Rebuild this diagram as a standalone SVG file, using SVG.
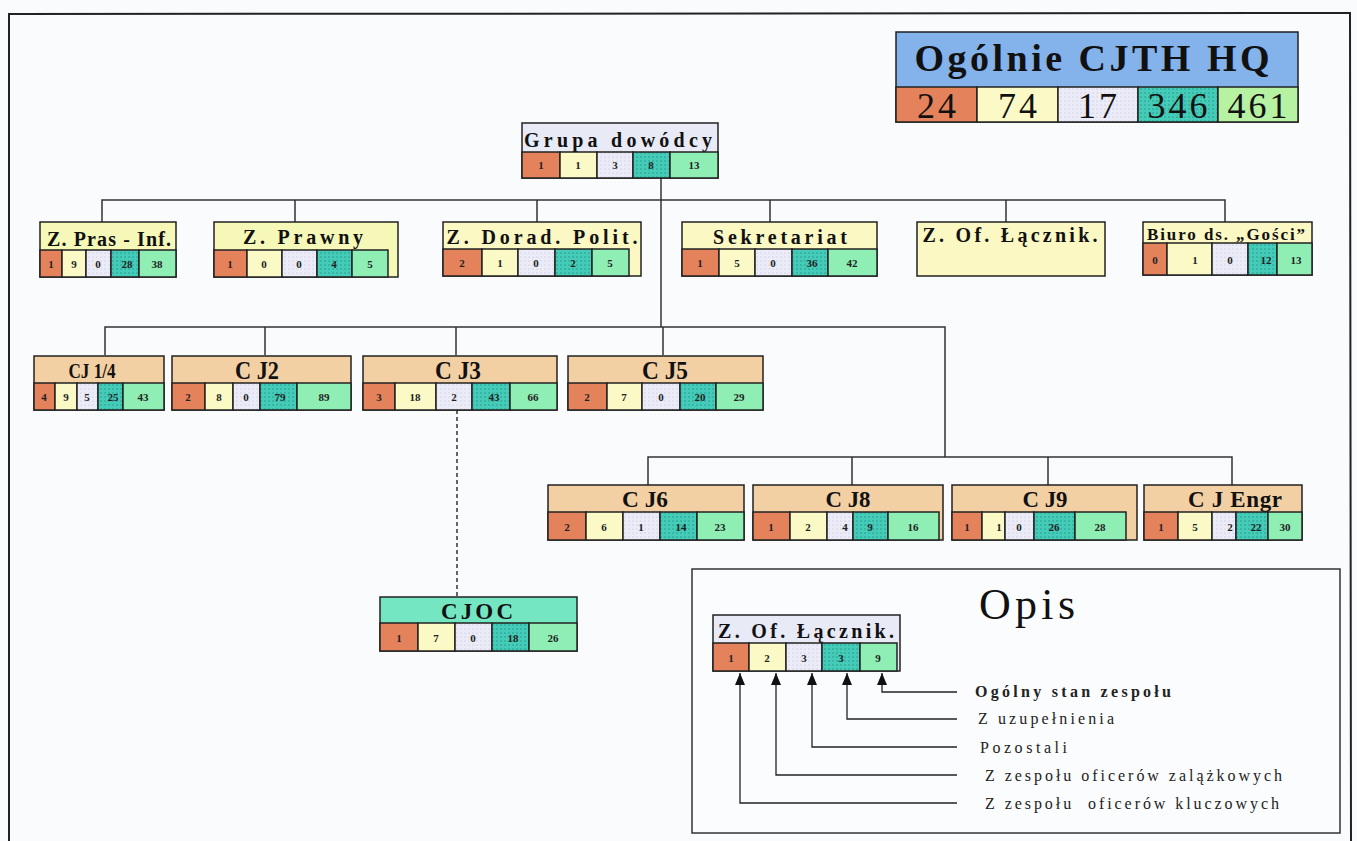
<svg xmlns="http://www.w3.org/2000/svg" width="1357" height="841" viewBox="0 0 1357 841">
<defs>
<pattern id="dotT" width="4" height="4" patternUnits="userSpaceOnUse"><rect width="4" height="4" fill="#44ccb8"/><circle cx="1" cy="1" r="0.7" fill="#1f8f84"/></pattern>
<pattern id="dotL" width="4" height="4" patternUnits="userSpaceOnUse"><rect width="4" height="4" fill="#ececf8"/><circle cx="1" cy="1" r="0.6" fill="#b8b8d4"/></pattern>
<marker id="ah" viewBox="0 0 12 10" refX="12" refY="5" markerWidth="12" markerHeight="10" markerUnits="userSpaceOnUse" orient="auto"><path d="M0,0 L12,5 L0,10 Z" fill="#111"/></marker>
</defs>
<style>
.bx{stroke:#222;stroke-width:1.5}
.o{fill:#e4825c}.y{fill:#fbf9c6}.l{fill:url(#dotL)}.tq{fill:url(#dotT)}.g{fill:#8eeeb4}
.hy{fill:#f6f8b8}.hc{fill:#fcf8c4}.ht{fill:#f3cfa4}.hl{fill:#e8eaf6}.hm{fill:#74e6c2}.hb{fill:#84b2ea}
.t{font-family:"Liberation Serif",serif;font-weight:bold;text-anchor:middle;fill:#111}
.n{font-family:"Liberation Serif",serif;font-weight:bold;font-size:11px;text-anchor:middle;fill:#222}
.lg{font-family:"Liberation Serif",serif;font-size:16px;fill:#222;letter-spacing:1px}
.cn{fill:none;stroke:#333;stroke-width:1.5}
</style>
<rect x="0" y="0" width="1357" height="841" fill="#f9fbfd"/>
<path d="M9,841 L9,14 L1350,13 L1351,841" fill="none" stroke="#222" stroke-width="2"/>

<g id="connectors">
<path class="cn" d="M661,178 V327"/>
<path class="cn" d="M102,222 V200 H1225 V222 M295,200 V222 M537,200 V222 M770,200 V222 M1006,200 V222"/>
<path class="cn" d="M105,355 V327 H945 V457 M265,327 V355 M456,327 V355 M663,327 V355"/>
<path class="cn" d="M648,485 V457 H1232 V485 M852,457 V485 M1048,457 V485"/>
<path class="cn" d="M457,410 V597" stroke-dasharray="4 3"/>
</g>

<g id="hq">
<rect class="bx hb" x="896" y="32" width="402" height="90"/>
<text class="t" x="1092" y="71" font-size="38" textLength="355" lengthAdjust="spacing">Ogólnie CJTH HQ</text>
<rect class="bx o" x="896" y="87" width="81" height="35"/>
<rect class="bx y" x="977" y="87" width="81" height="35"/>
<rect class="bx l" x="1058" y="87" width="80" height="35"/>
<rect class="bx tq" x="1138" y="87" width="80" height="35"/>
<rect class="bx" fill="#b6f2a2" x="1218" y="87" width="80" height="35"/>
<g font-family="Liberation Serif,serif" font-size="36" text-anchor="middle" fill="#111" letter-spacing="3">
<text x="938" y="118">24</text><text x="1019" y="118">74</text><text x="1099" y="118">17</text><text x="1179" y="118">346</text><text x="1259" y="118">461</text>
</g>
</g>

<g id="grupa">
<rect class="bx hl" x="522" y="123" width="196" height="55"/>
<text class="t" x="618" y="147" font-size="20" textLength="188" lengthAdjust="spacing">Grupa dowódcy</text>
<rect class="bx o" x="522" y="152" width="38" height="26"/><rect class="bx y" x="560" y="152" width="37" height="26"/><rect class="bx l" x="597" y="152" width="36" height="26"/><rect class="bx tq" x="633" y="152" width="37" height="26"/><rect class="bx g" x="670" y="152" width="48" height="26"/>
<text class="n" x="541" y="169">1</text><text class="n" x="578" y="169">1</text><text class="n" x="615" y="169">3</text><text class="n" x="651" y="169">8</text><text class="n" x="694" y="169">13</text>
</g>

<g id="zpras">
<rect class="bx hy" x="40" y="222" width="136" height="55"/>
<text class="t" x="109" y="246" font-size="20" textLength="124" lengthAdjust="spacing">Z. Pras - Inf.</text>
<rect class="bx o" x="40" y="250" width="22" height="27"/><rect class="bx y" x="62" y="250" width="24" height="27"/><rect class="bx l" x="86" y="250" width="25" height="27"/><rect class="bx tq" x="111" y="250" width="28" height="27"/><rect class="bx g" x="139" y="250" width="37" height="27"/>
<text class="n" x="51" y="268">1</text><text class="n" x="74" y="268">9</text><text class="n" x="98" y="268">0</text><text class="n" x="127" y="268">28</text><text class="n" x="157" y="268">38</text>
</g>

<g id="zprawny">
<rect class="bx hy" x="214" y="222" width="184" height="55"/>
<text class="t" x="303" y="244" font-size="20" textLength="120" lengthAdjust="spacing">Z. Prawny</text>
<rect class="bx o" x="214" y="250" width="33" height="27"/><rect class="bx y" x="247" y="250" width="35" height="27"/><rect class="bx l" x="282" y="250" width="35" height="27"/><rect class="bx tq" x="317" y="250" width="35" height="27"/><rect class="bx g" x="352" y="250" width="36" height="27"/>
<text class="n" x="230" y="268">1</text><text class="n" x="264" y="268">0</text><text class="n" x="299" y="268">0</text><text class="n" x="334" y="268">4</text><text class="n" x="370" y="268">5</text>
</g>

<g id="zdorad">
<rect class="bx hc" x="443" y="222" width="198" height="54"/>
<text class="t" x="542" y="244" font-size="20" textLength="191" lengthAdjust="spacing">Z. Dorad. Polit.</text>
<rect class="bx o" x="443" y="249" width="39" height="27"/><rect class="bx y" x="482" y="249" width="36" height="27"/><rect class="bx l" x="518" y="249" width="37" height="27"/><rect class="bx tq" x="555" y="249" width="37" height="27"/><rect class="bx g" x="592" y="249" width="37" height="27"/>
<text class="n" x="462" y="267">2</text><text class="n" x="500" y="267">1</text><text class="n" x="536" y="267">0</text><text class="n" x="573" y="267">2</text><text class="n" x="610" y="267">5</text>
</g>

<g id="sekretariat">
<rect class="bx hc" x="682" y="222" width="195" height="54"/>
<text class="t" x="780" y="244" font-size="20" textLength="134" lengthAdjust="spacing">Sekretariat</text>
<rect class="bx o" x="682" y="249" width="37" height="27"/><rect class="bx y" x="719" y="249" width="36" height="27"/><rect class="bx l" x="755" y="249" width="37" height="27"/><rect class="bx tq" x="792" y="249" width="36" height="27"/><rect class="bx g" x="828" y="249" width="49" height="27"/>
<text class="n" x="700" y="267">1</text><text class="n" x="737" y="267">5</text><text class="n" x="773" y="267">0</text><text class="n" x="812" y="267">36</text><text class="n" x="852" y="267">42</text>
</g>

<g id="zof">
<rect class="bx hc" x="917" y="222" width="188" height="54"/>
<text class="t" x="1010" y="242" font-size="20" textLength="175" lengthAdjust="spacing">Z. Of. Łącznik.</text>
</g>

<g id="biuro">
<rect class="bx hc" x="1143" y="222" width="169" height="53"/>
<text class="t" x="1226" y="240" font-size="17" textLength="158" lengthAdjust="spacing">Biuro ds. „Gości”</text>
<rect class="bx o" x="1143" y="243" width="24" height="32"/><rect class="bx y" x="1167" y="243" width="45" height="32"/><rect class="bx l" x="1212" y="243" width="36" height="32"/><rect class="bx tq" x="1248" y="243" width="29" height="32"/><rect class="bx g" x="1277" y="243" width="35" height="32"/>
<text class="n" x="1155" y="264">0</text><text class="n" x="1195" y="264">1</text><text class="n" x="1230" y="264">0</text><text class="n" x="1266" y="264">12</text><text class="n" x="1296" y="264">13</text>
</g>

<g id="cj14">
<rect class="bx ht" x="34" y="356" width="130" height="54"/>
<text class="t" x="92" y="378" font-size="20" textLength="47" lengthAdjust="spacingAndGlyphs">CJ 1/4</text>
<rect class="bx o" x="34" y="383" width="21" height="27"/><rect class="bx y" x="55" y="383" width="22" height="27"/><rect class="bx l" x="77" y="383" width="21" height="27"/><rect class="bx tq" x="98" y="383" width="25" height="27"/><rect class="bx g" x="123" y="383" width="41" height="27"/>
<text class="n" x="44" y="401">4</text><text class="n" x="66" y="401">9</text><text class="n" x="87" y="401">5</text><text class="n" x="113" y="401">25</text><text class="n" x="143" y="401">43</text>
</g>

<g id="cj2">
<rect class="bx ht" x="172" y="356" width="179" height="54"/>
<text class="t" x="257" y="379" font-size="25" textLength="44" lengthAdjust="spacingAndGlyphs">C J2</text>
<rect class="bx o" x="172" y="383" width="33" height="27"/><rect class="bx y" x="205" y="383" width="28" height="27"/><rect class="bx l" x="233" y="383" width="27" height="27"/><rect class="bx tq" x="260" y="383" width="37" height="27"/><rect class="bx g" x="297" y="383" width="54" height="27"/>
<text class="n" x="188" y="401">2</text><text class="n" x="219" y="401">8</text><text class="n" x="246" y="401">0</text><text class="n" x="280" y="401">79</text><text class="n" x="324" y="401">89</text>
</g>

<g id="cj3">
<rect class="bx ht" x="363" y="356" width="194" height="54"/>
<text class="t" x="458" y="379" font-size="25" textLength="46" lengthAdjust="spacingAndGlyphs">C J3</text>
<rect class="bx o" x="363" y="383" width="32" height="27"/><rect class="bx y" x="395" y="383" width="41" height="27"/><rect class="bx l" x="436" y="383" width="36" height="27"/><rect class="bx tq" x="472" y="383" width="38" height="27"/><rect class="bx g" x="510" y="383" width="47" height="27"/>
<text class="n" x="379" y="401">3</text><text class="n" x="415" y="401">18</text><text class="n" x="454" y="401">2</text><text class="n" x="494" y="401">43</text><text class="n" x="533" y="401">66</text>
</g>

<g id="cj5">
<rect class="bx ht" x="568" y="356" width="195" height="54"/>
<text class="t" x="665" y="379" font-size="25" textLength="46" lengthAdjust="spacingAndGlyphs">C J5</text>
<rect class="bx o" x="568" y="383" width="39" height="27"/><rect class="bx y" x="607" y="383" width="35" height="27"/><rect class="bx l" x="642" y="383" width="38" height="27"/><rect class="bx tq" x="680" y="383" width="36" height="27"/><rect class="bx g" x="716" y="383" width="47" height="27"/>
<text class="n" x="587" y="401">2</text><text class="n" x="624" y="401">7</text><text class="n" x="661" y="401">0</text><text class="n" x="700" y="401">20</text><text class="n" x="739" y="401">29</text>
</g>

<g id="cj6">
<rect class="bx ht" x="548" y="485" width="196" height="55"/>
<text class="t" x="645" y="507" font-size="23" textLength="46" lengthAdjust="spacingAndGlyphs">C J6</text>
<rect class="bx o" x="548" y="512" width="38" height="28"/><rect class="bx y" x="586" y="512" width="37" height="28"/><rect class="bx l" x="623" y="512" width="37" height="28"/><rect class="bx tq" x="660" y="512" width="37" height="28"/><rect class="bx g" x="697" y="512" width="47" height="28"/>
<text class="n" x="567" y="531">2</text><text class="n" x="604" y="531">6</text><text class="n" x="641" y="531">1</text><text class="n" x="681" y="531">14</text><text class="n" x="720" y="531">23</text>
</g>

<g id="cj8">
<rect class="bx ht" x="753" y="485" width="190" height="55"/>
<text class="t" x="848" y="507" font-size="23" textLength="45" lengthAdjust="spacingAndGlyphs">C J8</text>
<rect class="bx o" x="753" y="512" width="37" height="28"/><rect class="bx y" x="790" y="512" width="37" height="28"/><rect class="bx l" x="827" y="512" width="26" height="28"/><rect class="bx tq" x="853" y="512" width="35" height="28"/><rect class="bx g" x="888" y="512" width="51" height="28"/>
<text class="n" x="771" y="531">1</text><text class="n" x="808" y="531">2</text><text class="n" x="845" y="531">4</text><text class="n" x="870" y="531">9</text><text class="n" x="913" y="531">16</text>
</g>

<g id="cj9">
<rect class="bx ht" x="952" y="485" width="185" height="55"/>
<text class="t" x="1045" y="507" font-size="23" textLength="45" lengthAdjust="spacingAndGlyphs">C J9</text>
<rect class="bx o" x="952" y="512" width="30" height="28"/><rect class="bx y" x="982" y="512" width="23" height="28"/><rect class="bx l" x="1005" y="512" width="29" height="28"/><rect class="bx tq" x="1034" y="512" width="41" height="28"/><rect class="bx g" x="1075" y="512" width="51" height="28"/>
<text class="n" x="967" y="531">1</text><text class="n" x="999" y="531">1</text><text class="n" x="1019" y="531">0</text><text class="n" x="1054" y="531">26</text><text class="n" x="1100" y="531">28</text>
</g>

<g id="cjengr">
<rect class="bx ht" x="1144" y="485" width="158" height="55"/>
<text class="t" x="1235" y="507" font-size="23" textLength="94" lengthAdjust="spacing">C J Engr</text>
<rect class="bx o" x="1144" y="512" width="34" height="28"/><rect class="bx y" x="1178" y="512" width="34" height="28"/><rect class="bx l" x="1212" y="512" width="24" height="28"/><rect class="bx tq" x="1236" y="512" width="32" height="28"/><rect class="bx g" x="1268" y="512" width="34" height="28"/>
<text class="n" x="1161" y="531">1</text><text class="n" x="1195" y="531">5</text><text class="n" x="1230" y="531">2</text><text class="n" x="1256" y="531">22</text><text class="n" x="1285" y="531">30</text>
</g>

<g id="cjoc">
<rect class="bx hm" x="380" y="597" width="197" height="54"/>
<text class="t" x="477" y="619" font-size="23" textLength="72" lengthAdjust="spacing">CJOC</text>
<rect class="bx o" x="380" y="623" width="38" height="28"/><rect class="bx y" x="418" y="623" width="37" height="28"/><rect class="bx l" x="455" y="623" width="37" height="28"/><rect class="bx tq" x="492" y="623" width="37" height="28"/><rect class="bx g" x="529" y="623" width="48" height="28"/>
<text class="n" x="399" y="642">1</text><text class="n" x="436" y="642">7</text><text class="n" x="473" y="642">0</text><text class="n" x="513" y="642">18</text><text class="n" x="553" y="642">26</text>
</g>

<g id="opis">
<rect x="692" y="569" width="648" height="264" fill="#fbfcfd" stroke="#333" stroke-width="1.5"/>
<text x="1027" y="619" font-family="Liberation Serif,serif" font-size="44" text-anchor="middle" fill="#111" textLength="96" lengthAdjust="spacing">Opis</text>
<g id="legend-node">
<rect class="bx hl" x="713" y="615" width="187" height="56"/>
<text class="t" x="806" y="638" font-size="20" textLength="176" lengthAdjust="spacing">Z. Of. Łącznik.</text>
<rect class="bx o" x="713" y="643" width="36" height="28"/><rect class="bx y" x="749" y="643" width="37" height="28"/><rect class="bx l" x="786" y="643" width="36" height="28"/><rect class="bx tq" x="822" y="643" width="38" height="28"/><rect class="bx g" x="860" y="643" width="37" height="28"/>
<text class="n" x="731" y="662">1</text><text class="n" x="767" y="662">2</text><text class="n" x="804" y="662">3</text><text class="n" x="841" y="662">3</text><text class="n" x="878" y="662">9</text>
</g>
<g id="legend-arrows" fill="none" stroke="#222" stroke-width="1.3">
<path d="M957,692 H882 V673" marker-end="url(#ah)"/>
<path d="M957,719 H847 V673" marker-end="url(#ah)"/>
<path d="M957,747 H812 V673" marker-end="url(#ah)"/>
<path d="M957,775 H776 V673" marker-end="url(#ah)"/>
<path d="M957,803 H740 V673" marker-end="url(#ah)"/>
</g>
<text class="lg" x="975" y="697" font-weight="bold" textLength="197" lengthAdjust="spacing">Ogólny stan zespołu</text>
<text class="lg" x="978" y="724" textLength="137" lengthAdjust="spacing">Z uzupełnienia</text>
<text class="lg" x="980" y="753" textLength="88" lengthAdjust="spacing">Pozostali</text>
<text class="lg" x="985" y="781" textLength="298" lengthAdjust="spacing">Z zespołu oficerów zalążkowych</text>
<text class="lg" x="985" y="809" textLength="295" lengthAdjust="spacing" xml:space="preserve">Z zespołu  oficerów kluczowych</text>
</g>
</svg>
